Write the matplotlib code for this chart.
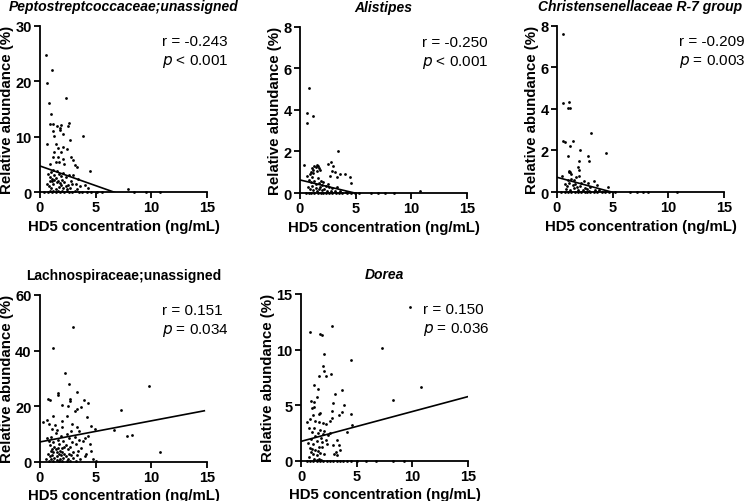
import matplotlib
matplotlib.use('Agg')
import matplotlib.pyplot as plt

plt.rcParams['font.family'] = ['Liberation Sans', 'DejaVu Sans']

# ---- data (HD5 ng/mL, relative abundance %) ----
pepto_x = [0.5, 1.1, 0.6, 0.8, 2.3, 1.0, 0.9, 1.2, 1.5, 1.9, 1.8, 2.6, 2.5, 1.2, 1.3, 1.8, 2.1, 3.9,
           0.6, 1.4, 1.6, 2.1, 2.7, 1.3, 1.9, 2.4, 1.2, 1.6, 2.1, 2.8, 0.9, 1.4, 1.7, 2.2, 3.0, 3.1, 3.3, 4.5,
           0.7, 0.9, 1.0, 1.1, 1.2, 1.3, 1.4, 1.5, 1.6, 1.7, 1.8, 1.9, 2.0, 2.1, 2.2, 2.3, 2.5, 2.6, 2.8,
           3.0, 3.2, 3.4, 3.6, 0.6, 0.8, 1.0, 1.2, 1.4, 1.5, 1.7, 1.9, 2.1, 2.3, 2.4, 2.7, 2.9, 3.3, 4.0,
           4.3, 1.1, 1.3, 0.9,
           0.4, 0.7, 0.9, 1.1, 1.2, 1.4, 1.6, 1.8, 2.0, 2.2, 2.4, 2.6, 2.9, 3.1, 3.5, 3.8, 4.2, 4.6, 5.1,
           5.6, 7.9, 8.4, 9.5, 10.8]
pepto_y = [24.7, 22.0, 19.7, 16.0, 17.0, 14.0, 12.2, 12.2, 12.0, 12.1, 11.5, 12.4, 12.0, 11.0, 10.2, 11.2, 10.4, 10.1,
           8.6, 8.6, 8.0, 8.2, 9.4, 7.2, 7.3, 7.7, 6.3, 6.4, 6.0, 6.4, 5.1, 5.4, 5.5, 5.1, 5.8, 4.8, 4.5, 3.8,
           3.2, 2.8, 3.6, 2.3, 4.0, 3.0, 2.6, 3.8, 2.0, 3.3, 1.6, 2.9, 2.2, 3.5, 1.8, 2.7, 1.2, 3.1, 2.0,
           3.0, 1.5, 2.4, 1.0, 1.5, 1.0, 0.8, 1.4, 0.6, 1.8, 0.9, 1.2, 0.7, 1.0, 0.5, 0.8, 1.4, 0.6, 1.2,
           0.8, 1.9, 2.1, 2.0,
           0.0, 0.0, 0.1, 0.0, 0.2, 0.0, 0.1, 0.0, 0.2, 0.0, 0.1, 0.0, 0.0, 0.1, 0.0, 0.0, 0.0, 0.0, 0.0,
           0.0, 0.6, 0.0, 0.0, 0.0]

alist_x = [0.8, 0.65, 1.2, 0.65, 3.4, 0.4, 1.0, 1.1, 1.2, 1.3, 1.4, 1.5, 1.6, 1.7, 1.2, 1.5, 1.8, 2.5, 2.8,
           3.0, 2.9, 3.1, 3.3, 2.7, 4.0, 3.6, 4.5, 4.6, 0.6, 0.8, 0.9, 1.0, 1.1, 1.3, 1.4, 1.6, 1.7, 1.9,
           2.0, 2.1, 2.3, 2.5, 2.6, 2.9, 3.3, 0.7, 0.9, 1.1, 1.2, 1.4, 1.5, 1.7, 1.8, 2.0, 2.2, 2.4, 2.8,
           3.1, 3.6, 4.1,
           0.5, 0.8, 1.0, 1.3, 1.6, 1.9, 2.1, 2.3, 2.6, 2.9, 3.2, 3.5, 3.8, 4.2, 4.6, 4.9, 5.3, 6.4, 7.0,
           7.6, 8.4, 10.8]
alist_y = [5.05, 3.85, 3.7, 3.35, 2.0, 1.35, 1.0, 1.2, 1.1, 1.3, 1.25, 1.35, 1.3, 1.2, 0.95, 1.05, 1.1, 1.4, 1.5,
           1.3, 1.05, 1.0, 0.75, 0.8, 0.9, 0.92, 0.75, 0.5, 0.8, 0.65, 0.9, 0.55, 0.75, 0.6, 0.45, 0.7, 0.5, 0.6,
           0.4, 0.55, 0.35, 0.45, 0.3, 0.25, 0.3, 0.3, 0.2, 0.35, 0.15, 0.25, 0.1, 0.2, 0.3, 0.15, 0.2, 0.1, 0.12,
           0.08, 0.1, 0.05,
           0, 0, 0, 0, 0, 0, 0, 0, 0, 0, 0, 0, 0, 0, 0, 0, 0, 0, 0,
           0, 0, 0.1]

chris_x = [0.55, 0.55, 1.1, 1.0, 1.2, 3.1, 0.55, 0.75, 1.4, 1.2, 2.1, 4.4, 2.75, 1.0, 2.9, 1.95, 1.9, 1.95,
           1.05, 1.2, 0.45, 1.1, 1.3, 1.0, 1.3, 1.5, 1.7, 2.0, 2.4, 2.8, 3.3, 3.6, 4.55, 0.7, 0.9, 1.1, 1.4,
           1.6, 1.8, 2.1, 2.2, 2.5, 2.7, 3.0, 3.4, 0.8, 1.2, 1.5, 1.9, 2.3, 2.9, 3.8,
           0.4, 0.7, 1.0, 1.3, 1.6, 1.9, 2.2, 2.5, 2.7, 3.0, 3.3, 3.6, 4.0, 4.3, 4.7, 5.2, 6.6, 7.2, 7.7,
           8.2, 10.8]
chris_y = [7.6, 4.3, 4.35, 4.05, 4.05, 2.85, 2.45, 2.4, 2.45, 2.2, 2.0, 1.9, 1.72, 1.75, 1.5, 1.5, 1.2, 1.05,
           0.95, 0.98, 0.75, 1.0, 0.85, 0.6, 0.65, 0.6, 0.7, 0.75, 0.55, 0.45, 0.55, 0.35, 0.25, 0.4, 0.3, 0.45, 0.35,
           0.4, 0.25, 0.3, 0.45, 0.2, 0.15, 0.25, 0.12, 0.15, 0.1, 0.18, 0.08, 0.12, 0.05, 0.08,
           0, 0, 0, 0, 0, 0, 0, 0, 0, 0, 0, 0, 0, 0, 0, 0, 0, 0, 0,
           0, 0]

lachno_x = [2.95, 1.14, 2.28, 2.58, 9.8, 7.3, 7.85, 8.3, 10.8, 3.36, 1.65, 1.6, 0.75, 0.9, 2.65, 2.7, 3.96,
            4.35, 1.95, 2.5, 3.36, 3.15, 3.66, 1.2, 2.4, 4.26, 0.3, 0.6, 2.0, 1.35, 2.85, 4.6, 4.9, 3.36,
            0.6, 0.8, 0.9, 1.0, 1.1, 1.2, 1.3, 1.4, 1.5, 1.6, 1.7, 1.8, 1.9, 2.0, 2.1, 2.2, 2.3, 2.4, 2.5,
            2.6, 2.7, 2.8, 2.9, 3.0, 3.1, 3.2, 3.4, 3.5, 3.7, 3.9, 4.1, 4.3, 4.5, 4.6, 4.8, 0.7, 0.9, 1.0,
            1.1, 1.2, 1.3, 1.4, 1.5, 1.6, 1.7, 1.8, 1.9, 2.0, 2.1, 2.2, 2.3, 2.5, 2.6, 2.8, 3.0, 3.3, 3.6,
            4.0, 0.5, 0.8, 1.0, 1.2, 1.5, 1.7, 2.0, 2.4, 2.7, 3.2, 5.0, 6.6, 1.1, 1.5, 2.0, 0.8, 3.5, 4.0]
lachno_y = [48.5, 40.9, 31.9, 28.0, 27.4, 18.6, 9.5, 9.6, 3.5, 25.0, 24.7, 24.0, 22.6, 22.1, 22.6, 21.8, 22.1,
            21.0, 20.4, 20.1, 19.0, 18.3, 19.6, 16.6, 16.6, 16.2, 14.4, 15.1, 14.8, 13.2, 13.6, 13.0, 11.8, 12.4,
            8.5, 7.5, 6.0, 9.0, 4.5, 7.0, 5.5, 10.5, 3.5, 8.0, 6.5, 4.0, 9.5, 5.0, 7.5, 3.0, 6.0, 10.0, 4.5,
            8.5, 5.5, 11.0, 7.0, 3.5, 9.0, 6.5, 4.0, 8.0, 5.0, 7.5, 3.0, 9.5, 6.5, 4.0, 1.0, 3.0, 2.0, 4.0,
            2.5, 3.5, 1.5, 4.5, 2.0, 5.0, 3.0, 1.0, 2.5, 3.5, 1.5, 5.5, 2.0, 1.0, 3.0, 2.5, 1.5, 2.5, 1.0,
            2.0, 1.0, 0.5, 1.0, 0.3, 0.8, 0.5, 0.2, 0.5, 0.3, 0.5, 0.2, 11.5, 12.0, 11.5, 12.5, 13.5, 11.0, 8.5]

dorea_x = [9.8, 2.78, 0.84, 1.67, 1.9, 2.09, 4.48, 7.3, 1.97, 2.03, 2.7, 1.64, 2.27, 1.2, 1.52, 1.43, 3.67,
           10.75, 8.24, 3.07, 0.93, 1.13, 2.84, 3.88, 4.48, 3.67, 3.37, 1.0, 1.2, 1.58, 1.73, 2.78, 2.78,
           0.55, 0.8, 1.1, 1.3, 1.6, 2.0, 2.25, 2.6, 4.6, 4.1, 3.2, 3.4, 3.1, 3.25,
           0.6, 0.7, 0.8, 0.9, 1.0, 1.1, 1.2, 1.3, 1.4, 1.5, 1.6, 1.7, 1.8, 1.9, 2.0, 2.1, 2.2, 2.4, 2.6,
           0.7, 0.9, 1.0, 1.1, 1.3, 1.4, 1.5, 1.7, 1.9, 2.1, 2.3, 2.9, 3.0, 3.5, 1.2, 1.4, 1.6, 1.8,
           0.5, 0.8, 1.1, 1.4, 1.7, 2.0, 2.3, 2.6, 2.9, 3.2, 3.5, 3.8, 4.1, 4.5, 5.0, 5.8, 6.7, 8.3, 9.2]
dorea_y = [13.8, 12.15, 11.55, 11.4, 11.3, 9.6, 9.1, 10.1, 8.5, 8.1, 7.8, 7.6, 7.6, 6.8, 6.5, 5.7, 6.4,
           6.6, 5.5, 6.0, 5.4, 5.3, 5.2, 5.0, 4.2, 4.4, 4.1, 4.75, 4.8, 4.2, 4.35, 4.5, 3.9,
           3.5, 3.8, 4.1, 3.6, 3.5, 3.4, 3.3, 3.6, 3.25, 2.6, 1.85, 1.4, 0.8, 0.5,
           1.6, 3.0, 1.2, 2.0, 2.6, 1.5, 3.0, 2.2, 1.8, 2.5, 1.3, 2.8, 2.1, 1.7, 2.4, 2.7, 1.9, 2.3, 2.5,
           0.4, 0.8, 1.1, 0.6, 1.0, 0.5, 0.9, 0.7, 1.3, 0.6, 1.5, 1.4, 0.6, 1.0, 0.2, 0.1, 0.2, 0.1,
           0, 0, 0, 0, 0, 0, 0, 0, 0, 0, 0, 0, 0, 0, 0, 0, 0, 0, 0]

titles = ['Peptostreptcoccaceae;unassigned', 'Alistipes', 'Christensenellaceae R-7 group',
          'Lachnospiraceae;unassigned', 'Dorea']
title_italic = [True, True, True, False, True]
r_values = ['-0.243', '-0.250', '-0.209', '0.151', '0.150']
p_texts = ['< 0.001', '< 0.001', '= 0.003', '= 0.034', '= 0.036']
y_maxes = [30, 8, 8, 60, 15]
y_steps = [10, 2, 2, 20, 5]
# fitted line: intercept, slope, end of line on x
fit_intercepts = [4.7, 0.63, 0.71, 7.2, 1.76]
fit_slopes = [-0.71, -0.128, -0.145, 0.758, 0.268]
fit_x_end = [15, 15, 15, 14.75, 15]

xs = [pepto_x, alist_x, chris_x, lachno_x, dorea_x]
ys = [pepto_y, alist_y, chris_y, lachno_y, dorea_y]

fig = plt.figure(figsize=(7.46, 5.02), dpi=100)
fig.patch.set_facecolor('white')

# axes rectangles in figure fractions
rects = [
    [0.0536, 0.6155, 0.224, 0.331],
    [0.4021, 0.6135, 0.224, 0.331],
    [0.7466, 0.6155, 0.224, 0.331],
    [0.0536, 0.0777, 0.224, 0.333],
    [0.4035, 0.0797, 0.224, 0.333],
]

for i in range(5):
    ax = fig.add_axes(rects[i])
    ax.set_xlim(0, 15)
    ax.set_ylim(0, y_maxes[i])
    ax.set_xticks([0, 5, 10, 15])
    ax.set_yticks(list(range(0, y_maxes[i] + 1, y_steps[i])))
    for s in ['top', 'right']:
        ax.spines[s].set_visible(False)
    for s in ['left', 'bottom']:
        ax.spines[s].set_linewidth(1.3)
    ax.tick_params(direction='out', length=4.5, width=1.3, labelsize=10.5, pad=1.5)
    for lab in ax.get_xticklabels() + ax.get_yticklabels():
        lab.set_fontweight('bold')

    ax.scatter(xs[i], ys[i], s=4, color='black', linewidths=0, clip_on=False, zorder=3)

    x_end = fit_x_end[i]
    ax.plot([0, x_end], [fit_intercepts[i], fit_intercepts[i] + fit_slopes[i] * x_end],
            color='black', lw=1.2, zorder=2)

    ax.text(0.5, 1.12, titles[i], transform=ax.transAxes, ha='center', va='center',
            fontsize=10, fontweight='bold', style='italic' if title_italic[i] else 'normal')
    ax.text(0.73, 0.91, 'r = ' + r_values[i], transform=ax.transAxes, ha='left', va='center',
            fontsize=11)
    ax.text(0.73, 0.79, r'$\it{p}$ ' + p_texts[i], transform=ax.transAxes, ha='left', va='center',
            fontsize=11)

    ax.set_xlabel('HD5 concentration (ng/mL)', fontsize=10.8, fontweight='bold', labelpad=3)
    ax.set_ylabel('Relative abundance (%)', fontsize=10.8, fontweight='bold', labelpad=1)

plt.savefig('out.png', dpi=100, facecolor='white')
plt.close()
